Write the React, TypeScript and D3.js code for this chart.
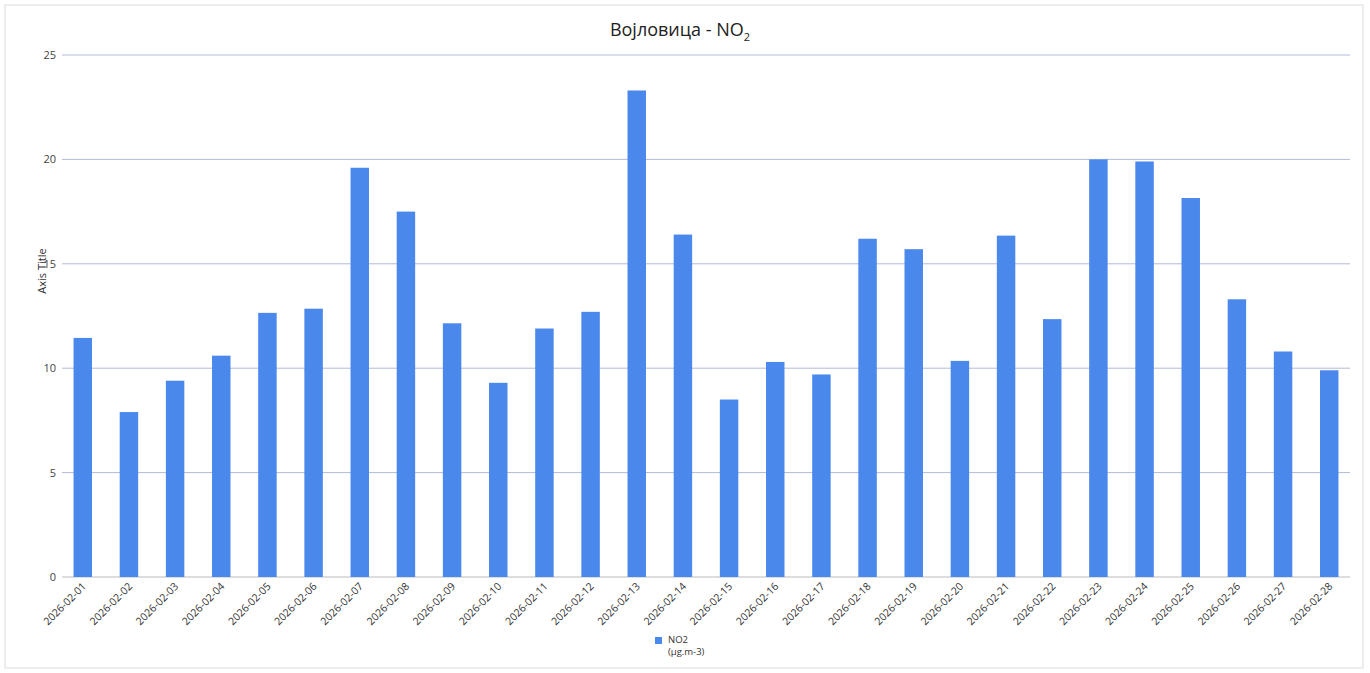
import React from "react";
import * as d3 from "d3";

const dates = [
  "2026-02-01","2026-02-02","2026-02-03","2026-02-04","2026-02-05","2026-02-06","2026-02-07",
  "2026-02-08","2026-02-09","2026-02-10","2026-02-11","2026-02-12","2026-02-13","2026-02-14",
  "2026-02-15","2026-02-16","2026-02-17","2026-02-18","2026-02-19","2026-02-20","2026-02-21",
  "2026-02-22","2026-02-23","2026-02-24","2026-02-25","2026-02-26","2026-02-27","2026-02-28",
];
const no2 = [
  11.45, 7.9, 9.4, 10.6, 12.65, 12.85, 19.6, 17.5, 12.15, 9.3, 11.9, 12.7, 23.3, 16.4,
  8.5, 10.3, 9.7, 16.2, 15.7, 10.35, 16.35, 12.35, 20.0, 19.9, 18.15, 13.3, 10.8, 9.9,
];
const yTicks = [0, 5, 10, 15, 20, 25];

const W = 1370, H = 673;
const left = 62, right = 1350, top = 55, bottom = 577;
const font = "'Open Sans', 'Noto Sans', sans-serif";
const barColor = "#4a88ec";
const gridColor = "#b4bad6";

export default function App() {
  const x = d3.scaleBand<string>().domain(dates).range([left, right]).paddingInner(0.6).paddingOuter(0.25);
  const y = d3.scaleLinear().domain([0, 25]).range([bottom, top]);
  return (
    <svg width={W} height={H} style={{ position: "absolute", left: 0, top: 0, background: "#fff" }} fontFamily={font}>
      <rect x={5} y={5} width={W - 12} height={H - 10} fill="none" stroke="#dcdcdc" strokeWidth={1} />
      <text x={680} y={36} textAnchor="middle" fontSize={18} fill="#222">
        Војловица - NO<tspan fontSize={11} dy={5}>2</tspan>
      </text>
      {yTicks.map((t) => (
        <g key={t}>
          <line x1={left} x2={right} y1={y(t)} y2={y(t)} stroke={t === 0 ? "#bbbbbb" : gridColor} strokeWidth={1} />
          <text x={left - 6} y={y(t) + 4} textAnchor="end" fontSize={11} fill="#444">{t}</text>
        </g>
      ))}
      <text transform={`translate(46,${(top + bottom) / 2 - 45}) rotate(-90)`} textAnchor="middle" fontSize={11} fill="#333">Axis Title</text>
      {dates.map((d, i) => (
        <rect key={d} x={x(d)!} y={y(no2[i])} width={x.bandwidth()} height={bottom - y(no2[i])} fill={barColor} />
      ))}
      {dates.map((d) => (
        <text key={d} transform={`translate(${x(d)! + x.bandwidth() / 2 + 4},${bottom + 10}) rotate(-45)`} textAnchor="end" fontSize={10.5} fill="#333">{d}</text>
      ))}
      <rect x={655} y={637} width={7} height={7} fill={barColor} />
      <text x={668} y={643} fontSize={9.5} fill="#333">NO2</text>
      <text x={668} y={655} fontSize={9.5} fill="#333">(µg.m-3)</text>
    </svg>
  );
}
